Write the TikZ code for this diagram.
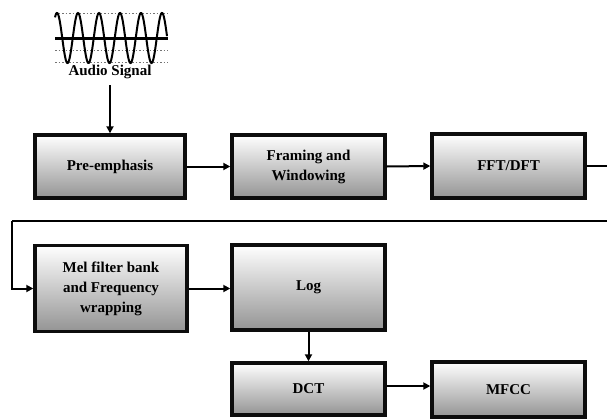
\documentclass[tikz,border=0pt]{standalone}
\usepackage{fontspec}
\setmainfont{Liberation Serif}
\usetikzlibrary{arrows.meta}
\tikzset{
  blk/.style={draw=black!95, line width=3.4pt, top color=white, bottom color=black!42,
    minimum width=153pt, inner sep=2pt, align=center,
    font=\fontsize{15}{20}\selectfont\bfseries},
  arr/.style={line width=2pt, -{Triangle[length=7pt,width=7pt]}},
  guide/.style={black!55, line width=0.6pt, dash pattern=on 1.5pt off 2pt},
}
\begin{document}
\begin{tikzpicture}[x=1pt,y=-1pt]
\clip (0,0) rectangle (607,418);
\fill[white] (0,0) rectangle (607,418);
% signal
\draw[guide] (55,13) -- (168,13);
\draw[guide] (55,50) -- (168,50);
\draw[guide] (55,62) -- (168,62);
\draw[line width=3pt] (55,38) -- (168,38);
\draw[line width=2pt] plot[domain=55:167, samples=240, smooth] (\x, {38 - 25*cos((\x-57)/21*360)});
\node[font=\fontsize{15}{16}\selectfont\bfseries, inner sep=1pt] (audio) at (110,72) {Audio Signal};
% blocks
\node[blk, minimum width=150pt, minimum height=63pt] (pre) at (110,166.5) {Pre-emphasis};
\node[blk, minimum height=63pt] (frame) at (308.5,166.5) {Framing and\\Windowing};
\node[blk, minimum height=64pt] (fft) at (508.5,166) {FFT/DFT};
\node[blk, minimum width=152pt, minimum height=86pt] (mel) at (111,288.5) {Mel filter bank\\and Frequency\\wrapping};
\node[blk, minimum height=85pt] (log) at (308.5,287.5) {Log};
\node[blk, minimum height=52pt] (dct) at (308.5,389) {DCT};
\node[blk, minimum height=55pt] (mfcc) at (508.5,389.5) {MFCC};
% connectors
\coordinate (r1) at (620,221);
\coordinate (l1) at (12,221);
\draw[arr] ([yshift=-5pt]audio.south) -- (pre.north);
\draw[arr] (pre.east) -- (frame.west);
\draw[arr] (frame.east) -- (fft.west);
\draw[line width=2pt] (fft.east) -| (r1) -- (l1);
\draw[arr] (l1) |- (mel.west);
\draw[arr] (mel.west -| mel.east) -- (mel.west -| log.west);
\draw[arr] (log.south) -- (dct.north);
\draw[arr] ([yshift=3pt]dct.east) -- ([yshift=3pt]dct.east -| mfcc.west);
\end{tikzpicture}
\end{document}
